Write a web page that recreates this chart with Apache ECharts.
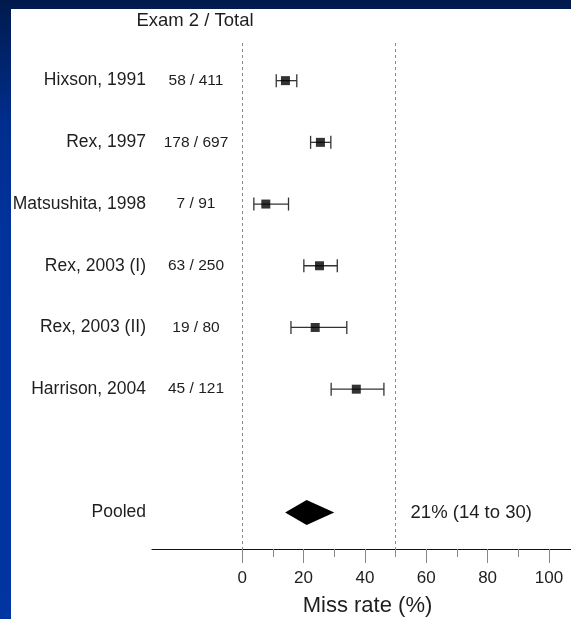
<!DOCTYPE html>
<html>
<head>
<meta charset="utf-8">
<script src="https://cdn.jsdelivr.net/npm/echarts@6/dist/echarts.min.js"></script>
<style>
html,body{margin:0;padding:0;}
#chart{width:571px;height:619px;}
</style>
</head>
<body>
<div id="chart"></div>
<script>
// ---- data ----
var studies = ['Hixson, 1991', 'Rex, 1997', 'Matsushita, 1998', 'Rex, 2003 (I)', 'Rex, 2003 (II)', 'Harrison, 2004'];
var counts = ['58 / 411', '178 / 697', '7 / 91', '63 / 250', '19 / 80', '45 / 121'];
var estimates = [14.1, 25.5, 7.7, 25.2, 23.8, 37.2];
var lower = [11.1, 22.3, 3.8, 20.1, 15.9, 29.0];
var upper = [17.8, 28.9, 15.1, 31.0, 34.1, 46.2];
var studyRows = [1, 2, 3, 4, 5, 6];
var pooledLabel = 'Pooled';
var pooledEstimate = 21;
var pooledLower = 14;
var pooledUpper = 30;
var pooledRow = 8;
var majorTicks = [0, 20, 40, 60, 80, 100];
var minorTicks = [10, 30, 50, 70, 90];
var referenceLines = [0, 50];
var columnHeader = 'Exam 2 / Total';
var axisTitle = 'Miss rate (%)';

// ---- chart ----
var FONT = 'Liberation Sans, Arial, Helvetica, sans-serif';
var TXT = '#1e1e1e';
var chart = echarts.init(document.getElementById('chart'), null, {renderer: 'canvas'});

var rowLabels = {};
studyRows.forEach(function (r, i) { rowLabels[r] = studies[i]; });
rowLabels[pooledRow] = pooledLabel;
var countLabels = {};
studyRows.forEach(function (r, i) { countLabels[r] = counts[i]; });

var ciData = studyRows.map(function (r, i) { return [lower[i], upper[i], r]; });
var estData = studyRows.map(function (r, i) { return [estimates[i], r]; });

var yBase = {
  type: 'value', inverse: true, min: 0.39, max: 8.59,
  axisLine: {show: false}, axisTick: {show: false}, splitLine: {show: false}
};

var option = {
  animation: false,
  graphic: [
    {type: 'rect', z: -10, shape: {x: 0, y: 0, width: 571, height: 619},
      style: {fill: new echarts.graphic.LinearGradient(0, 0, 0, 1, [
        {offset: 0, color: '#001a4c'},
        {offset: 0.05, color: '#001f5e'},
        {offset: 0.2, color: '#002e8e'},
        {offset: 0.4, color: '#00339e'},
        {offset: 1, color: '#0035a2'}
      ])}},
    {type: 'rect', z: -9, shape: {x: 11, y: 9, width: 560, height: 610}, style: {fill: '#ffffff'}},
    {type: 'text', z: 10, x: 195, y: 21,
      style: {text: columnHeader, fill: TXT, font: '18.5px ' + FONT, align: 'center', verticalAlign: 'middle'}}
  ],
  grid: {left: 152, right: -12, top: 43, bottom: 70, containLabel: false, outerBoundsMode: 'none'},
  xAxis: [
    {
      type: 'value', min: -29.4, max: 111.1, position: 'bottom',
      axisLine: {show: true, lineStyle: {color: '#111', width: 1.2}},
      axisTick: {show: true, customValues: majorTicks, length: 14, lineStyle: {color: '#888', width: 1}},
      axisLabel: {show: true, customValues: majorTicks, margin: 21, fontSize: 17, color: TXT, fontFamily: FONT},
      splitLine: {show: false},
      name: axisTitle, nameLocation: 'middle', nameGap: 46,
      nameTextStyle: {fontSize: 22, color: TXT, fontFamily: FONT}
    },
    {
      type: 'value', min: -29.4, max: 111.1, position: 'bottom', offset: 0,
      axisLine: {show: false},
      axisTick: {show: true, customValues: minorTicks, length: 8, lineStyle: {color: '#888', width: 1}},
      axisLabel: {show: false},
      splitLine: {show: false}
    }
  ],
  yAxis: [
    Object.assign({}, yBase, {
      position: 'left',
      axisLabel: {customValues: studyRows.concat([pooledRow]), margin: 6, fontSize: 17.5, color: TXT, fontFamily: FONT,
        formatter: function (v) { return rowLabels[v] || ''; }}
    }),
    Object.assign({}, yBase, {
      position: 'left', offset: -44,
      axisLabel: {customValues: studyRows, margin: 0, align: 'center', fontSize: 15.5, color: TXT, fontFamily: FONT,
        formatter: function (v) { return countLabels[v] || ''; }}
    })
  ],
  series: [
    {
      type: 'custom', name: 'ci', xAxisIndex: 0, yAxisIndex: 0, z: 3,
      data: ciData,
      renderItem: function (params, api) {
        var a = api.coord([api.value(0), api.value(2)]);
        var b = api.coord([api.value(1), api.value(2)]);
        var cap = 6.5;
        var st = {stroke: '#333', lineWidth: 1.3, fill: null};
        return {type: 'group', children: [
          {type: 'line', shape: {x1: a[0], y1: a[1], x2: b[0], y2: b[1]}, style: st},
          {type: 'line', shape: {x1: a[0], y1: a[1] - cap, x2: a[0], y2: a[1] + cap}, style: st},
          {type: 'line', shape: {x1: b[0], y1: b[1] - cap, x2: b[0], y2: b[1] + cap}, style: st}
        ]};
      }
    },
    {
      type: 'scatter', name: 'estimate', xAxisIndex: 0, yAxisIndex: 0, z: 4,
      symbol: 'rect', symbolSize: 9, itemStyle: {color: '#000'},
      data: estData,
      markLine: {
        silent: true, symbol: ['none', 'none'], label: {show: false}, z: 1,
        lineStyle: {color: '#8a8a8a', width: 1, type: [3, 3]},
        data: referenceLines.map(function (v) { return {xAxis: v}; })
      }
    },
    {
      type: 'custom', name: 'pooled', xAxisIndex: 0, yAxisIndex: 0, z: 4,
      data: [[pooledEstimate, pooledLower, pooledUpper, pooledRow]],
      renderItem: function (params, api) {
        var row = api.value(3);
        var c = api.coord([api.value(0), row]);
        var l = api.coord([api.value(1), row]);
        var r = api.coord([api.value(2), row]);
        var h = 12.5;
        var tx = api.coord([referenceLines[1], row])[0] + 15;
        return {type: 'group', children: [
          {type: 'polygon', shape: {points: [[l[0], c[1]], [c[0], c[1] - h], [r[0], c[1]], [c[0], c[1] + h]]},
            style: {fill: '#000'}},
          {type: 'text', x: tx, y: c[1],
            style: {text: api.value(0) + '% (' + api.value(1) + ' to ' + api.value(2) + ')',
              fill: TXT, font: '18.5px ' + FONT, align: 'left', verticalAlign: 'middle'}}
        ]};
      }
    }
  ]
};
chart.setOption(option);
</script>
</body>
</html>
